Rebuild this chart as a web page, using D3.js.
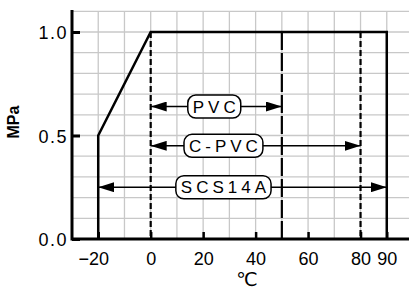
<!DOCTYPE html>
<html>
<head>
<meta charset="utf-8">
<script src="https://cdn.jsdelivr.net/npm/d3@7"></script>
<style>
  body { margin: 0; background: #fff; }
  svg { display: block; font-family: "Liberation Sans", Arial, sans-serif; }
</style>
</head>
<body>
<div class="graph"></div>
<script>
// pressure / temperature limit curve (degC, MPa)
const limitTemp = [-20, -20, 0, 90, 90];
const limitPress = [0, 0.5, 1.0, 1.0, 0];

// dashed verticals: temperature where each material ends
const dashTemps = [0, 50, 80];
const dashKinds = ['short', 'long', 'short'];

// range arrows
const rangeNames = ['PVC', 'C-PVC', 'SCS14A'];
const rangeFrom = [0, 0, -20];
const rangeTo = [50, 80, 90];
const rangeY = [0.64, 0.45, 0.25];
const labelCenter = [25, 28.5, 28.5];

const xTicks = [-20, 0, 20, 40, 60, 80, 90];
const yTicks = [0, 0.5, 1.0];

const W = 409, H = 291;
const svg = d3.select('.graph').append('svg').attr('width', W).attr('height', H);

const x = d3.scaleLinear().domain([-30, 100]).range([72, 413]);
const y = d3.scaleLinear().domain([0, 1]).range([239, 32]);

svg.append('defs').append('marker')
    .attr('id', 'ah')
    .attr('viewBox', '0 0 16 10')
    .attr('refX', 16).attr('refY', 5)
    .attr('markerWidth', 16).attr('markerHeight', 10)
    .attr('markerUnits', 'userSpaceOnUse')
    .attr('orient', 'auto-start-reverse')
    .append('path').attr('d', 'M0,0 L16,5 L0,10 Z').attr('fill', '#000');

// grid
const grid = svg.append('g').attr('stroke', '#c8c8c8').attr('stroke-width', 1.3);
grid.selectAll('line.v')
    .data(d3.range(-20, 101, 10))
    .enter().append('line')
    .attr('x1', d => x(d)).attr('x2', d => x(d))
    .attr('y1', y(1.1)).attr('y2', y(0));
grid.selectAll('line.h')
    .data(d3.range(1, 12).map(d => d / 10))
    .enter().append('line')
    .attr('x1', x(-30)).attr('x2', W)
    .attr('y1', d => y(d)).attr('y2', d => y(d));

// dashed verticals
svg.selectAll('line.dash')
    .data(dashTemps)
    .enter().append('line')
    .attr('x1', d => x(d)).attr('x2', d => x(d))
    .attr('y1', y(1)).attr('y2', y(0))
    .attr('stroke', '#000').attr('stroke-width', 2.2)
    .attr('stroke-dasharray', (d, i) => dashKinds[i] === 'long' ? '18,3' : '6,3');

// limit curve
const line = d3.line().x(d => x(d[0])).y(d => y(d[1]));
svg.append('path')
    .datum(limitTemp.map((t, i) => [t, limitPress[i]]))
    .attr('d', line)
    .attr('fill', 'none').attr('stroke', '#000').attr('stroke-width', 2.5);

// range arrows with labels
rangeNames.forEach((name, i) => {
    const yy = y(rangeY[i]);
    svg.append('line')
        .attr('x1', x(rangeFrom[i])).attr('x2', x(rangeTo[i]))
        .attr('y1', yy).attr('y2', yy)
        .attr('stroke', '#000').attr('stroke-width', 1.5)
        .attr('marker-start', 'url(#ah)').attr('marker-end', 'url(#ah)');
    const g = svg.append('g').attr('transform', `translate(${x(labelCenter[i])},${yy})`);
    const t = g.append('text')
        .attr('text-anchor', 'middle').attr('dy', '0.36em')
        .attr('font-size', 17).attr('letter-spacing', 4)
        .text(name);
    const bb = t.node().getBBox();
    g.insert('rect', 'text')
        .attr('x', bb.x - 5).attr('y', -11.5)
        .attr('width', bb.width + 6).attr('height', 23)
        .attr('rx', 8)
        .attr('fill', '#fff').attr('stroke', '#000').attr('stroke-width', 1.5);
});

// axes
const xAxis = svg.append('g')
    .attr('transform', `translate(0,${y(0)})`)
    .call(d3.axisBottom(x).tickValues(xTicks).tickSizeInner(-7).tickSizeOuter(0)
        .tickPadding(13).tickFormat(d => d < 0 ? '\u2212' + Math.abs(d) : d));
xAxis.select('.domain').attr('stroke-width', 3).attr('d', `M${x(-30)},0H${W}`);
xAxis.selectAll('.tick line').attr('stroke-width', 2.5);
xAxis.selectAll('.tick text').attr('font-size', 18).attr('fill', '#000')
    .attr('dx', d => d < 0 ? -5 : 0);

const yAxis = svg.append('g')
    .attr('transform', `translate(${x(-30)},0)`)
    .call(d3.axisLeft(y).tickValues(yTicks).tickSizeInner(-8).tickSizeOuter(0)
        .tickPadding(4).tickFormat(d3.format('.1f')));
yAxis.select('.domain').attr('stroke-width', 3).attr('d', `M0,10V${y(0) + 1.5}`);
yAxis.selectAll('.tick line').attr('stroke-width', 3);
yAxis.selectAll('.tick text').attr('font-size', 18).attr('fill', '#000')
    .attr('letter-spacing', 1.5).attr('dy', '0.38em');

// axis titles
svg.append('text')
    .attr('transform', 'translate(19,122) rotate(-90)')
    .attr('text-anchor', 'middle')
    .attr('font-size', 16).attr('font-weight', 'bold')
    .text('MPa');
svg.append('text')
    .attr('x', 247).attr('y', 286)
    .attr('text-anchor', 'middle')
    .attr('font-family', '"DejaVu Sans", sans-serif')
    .attr('font-size', 19)
    .text('\u2103');
</script>
</body>
</html>
